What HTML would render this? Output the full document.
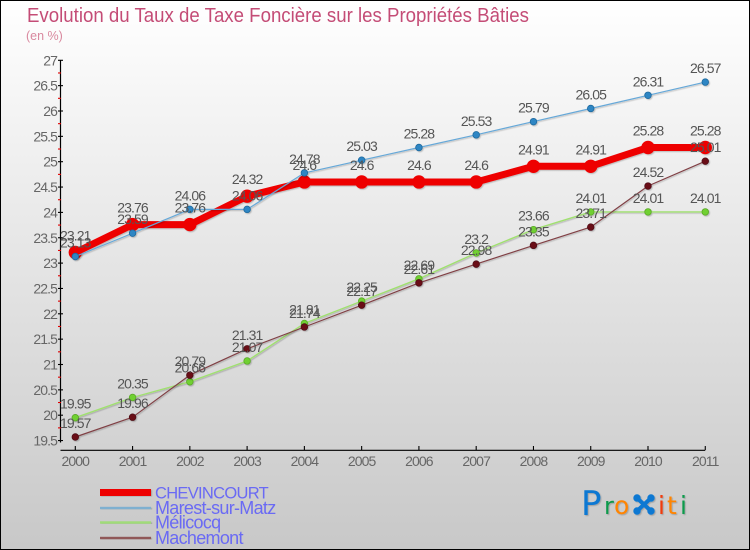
<!DOCTYPE html>
<html lang="fr">
<head>
<meta charset="utf-8">
<title>Evolution du Taux de Taxe Foncière</title>
<style>
html,body{margin:0;padding:0;background:#fff}
#chart-wrap{position:relative;width:750px;height:550px;overflow:hidden}
svg{display:block;font-family:"Liberation Sans",sans-serif}
</style>
</head>
<body>
<div id="chart-wrap">
<svg id="chart" width="750" height="550" viewBox="0 0 750 550">
<defs>
<linearGradient id="bg" x1="0" y1="0" x2="0" y2="1">
<stop offset="0" stop-color="#ffffff"/>
<stop offset="1" stop-color="#c8c8c8"/>
</linearGradient>
<filter id="soft" x="-5%" y="-5%" width="110%" height="110%">
<feDropShadow dx="1" dy="1" stdDeviation="0.6" flood-color="#000" flood-opacity="0.22"/>
</filter>
</defs>
<rect x="0.5" y="0.5" width="749" height="549" fill="url(#bg)" stroke="#000" stroke-width="1"/>
<text x="27" y="22" font-size="20.5" fill="#c44c76" textLength="502" lengthAdjust="spacingAndGlyphs">Evolution du Taux de Taxe Foncière sur les Propriétés Bâties</text>
<text x="26" y="40" font-size="12.5" fill="#d9899f">(en %)</text>
<g id="axes"></g>
<g id="series"></g>
<g id="labels"></g>
<g id="legend"></g>
<g filter="url(#soft)">
<text x="581" y="515" font-size="34" font-family="'DejaVu Sans',sans-serif" fill="#0a78d2">P</text>
<text x="604" y="514" font-size="24" font-family="'DejaVu Sans',sans-serif" fill="#0f9a4b">r</text>
<text x="614" y="514" font-size="25" font-family="'DejaVu Sans',sans-serif" fill="#ff8400">o</text>
<g fill="#0a78d2" stroke="#0a78d2">
<path d="M637 498 L651 511 M651 498 L637 511" stroke-width="4" fill="none"/>
<circle cx="637" cy="498" r="3.2"/><circle cx="651" cy="498" r="3.2"/><circle cx="637" cy="511" r="3.2"/><circle cx="651" cy="511" r="3.2"/>
</g>
<text x="658" y="514" font-size="25" font-family="'DejaVu Sans',sans-serif" fill="#f03a10">i</text>
<text x="667" y="514" font-size="25" font-family="'DejaVu Sans',sans-serif" fill="#ff8400">t</text>
<text x="680" y="514" font-size="25" font-family="'DejaVu Sans',sans-serif" fill="#0f9a4b">i</text>
</g>
</svg>
</div>
<script>
const years = [2000,2001,2002,2003,2004,2005,2006,2007,2008,2009,2010,2011];
const yTicks = [19.5,20,20.5,21,21.5,22,22.5,23,23.5,24,24.5,25,25.5,26,26.5,27];
const chevincourt = [23.21,23.76,23.76,24.32,24.6,24.6,24.6,24.6,24.91,24.91,25.28,25.28];
const marest = [23.13,23.59,24.06,24.06,24.78,25.03,25.28,25.53,25.79,26.05,26.31,26.57];
const melicocq = [19.95,20.35,20.66,21.07,21.81,22.25,22.69,23.2,23.66,24.01,24.01,24.01];
const machemont = [19.57,19.96,20.79,21.31,21.74,22.17,22.61,22.98,23.35,23.71,24.52,25.01];
const seriesNames = ["CHEVINCOURT","Marest-sur-Matz","Mélicocq","Machemont"];

const NS = "http://www.w3.org/2000/svg";
const X0 = 75.3, XSTEP = 57.27, Y27 = 60.3, YUNIT = 50.7;
function xPos(i){ return X0 + i * XSTEP; }
function yPos(v){ return Y27 + (27 - v) * YUNIT; }
function make(tag, attrs, parent){
  const el = document.createElementNS(NS, tag);
  for (const k in attrs) el.setAttribute(k, attrs[k]);
  parent.appendChild(el);
  return el;
}
const axes = document.getElementById("axes");
const seriesG = document.getElementById("series");
const labelsG = document.getElementById("labels");
const legendG = document.getElementById("legend");

const yAxis = make("line", {x1:60.5,y1:yPos(27),x2:60.5,y2:yPos(19.5)+2,stroke:"#000","stroke-width":1.2}, axes);


const xAxis = make("line", {x1:60.5,y1:450.3,x2:xPos(years.length-1),y2:450.3,stroke:"#000","stroke-width":1.2}, axes);



yTicks.forEach(function(t, i){
  const y = yPos(t);
  const tick = make("line", {x1:58,y1:y,x2:63,y2:y,stroke:"#000","stroke-width":1.1}, axes);
  
  
  const lab = make("text", {x:57,y:y+5,"font-size":14,"text-anchor":"end",fill:"#666","letter-spacing":"-0.9"}, axes);
  
  
  lab.textContent = String(t);
  if (i < yTicks.length - 1) {
    const my = yPos(t + (yTicks[i+1] - t) / 2);
    const minor = make("line", {x1:58,y1:my,x2:61,y2:my,stroke:"#e00000","stroke-width":1.1}, axes);
    
    
  }
});
years.forEach(function(yr, i){
  const x = xPos(i);
  const tick = make("line", {x1:x,y1:446,x2:x,y2:450,stroke:"#000","stroke-width":1.1}, axes);
  
  
  const lab = make("text", {x:x,y:466,"font-size":14,"text-anchor":"middle",fill:"#666","letter-spacing":"-0.9"}, axes);
  
  
  lab.textContent = String(yr);
});

function drawSeries(values, lineColor, width, dotFill, dotStroke, r, labelGap, slug){
  const g = make("g", {filter:"url(#soft)"}, seriesG);
  
  
  const pts = values.map(function(v, i){ return xPos(i).toFixed(1) + "," + yPos(v).toFixed(1); }).join(" ");
  const line = make("polyline", {points:pts,fill:"none",stroke:lineColor,"stroke-width":width,"stroke-linejoin":"round"}, g);
  
  
  values.forEach(function(v, i){
    const c = make("circle", {cx:xPos(i),cy:yPos(v),r:r,fill:dotFill,stroke:dotStroke,"stroke-width":0.8}, g);
    
    
    const t = make("text", {x:xPos(i),y:yPos(v)-labelGap,"font-size":14,"text-anchor":"middle",fill:"#555","letter-spacing":"-0.9"}, labelsG);
    
    
    t.textContent = String(v);
  });
}
drawSeries(chevincourt, "#ee0000", 7, "#ee0000", "#ee0000", 6.3, 12, "chevincourt");
drawSeries(marest, "#66a8d8", 1.2, "#2f86c4", "#1f6a9f", 3.3, 9, "marest-sur-matz");
drawSeries(melicocq, "#a0e070", 1.4, "#70d030", "#5aa828", 3.3, 9, "melicocq");
drawSeries(machemont, "#804045", 1.2, "#6a1018", "#501018", 3.3, 9, "machemont");

const legendColors = ["#ee0000","#7fb0d0","#a0dc78","#905858"];
const legendWidths = [7,2.4,2.4,2.4];
const legendYs = [492.5,508,522.5,538];
const legendFontSizes = [16.5,18,18,18];
seriesNames.forEach(function(name, i){
  const sw = make("rect", {x:100,y:legendYs[i]-legendWidths[i]/2,width:51,height:legendWidths[i],fill:legendColors[i],filter:"url(#soft)"}, legendG);
  
  
  const t = make("text", {x:155,y:legendYs[i]+6,"font-size":legendFontSizes[i],fill:"#6a6af4","letter-spacing":"-0.7"}, legendG);
  
  
  t.textContent = name;
});
</script>
</body>
</html>
